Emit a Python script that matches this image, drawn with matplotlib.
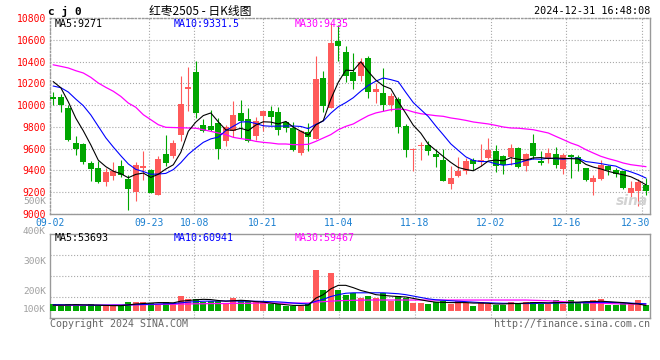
import matplotlib
matplotlib.use('Agg')
import matplotlib.pyplot as plt
import matplotlib.transforms as mtransforms
import numpy as np

W, H = 660, 360

# x axis labels (trading day index -> label)
tick_idx = [0, 13, 19, 28, 38, 48, 58, 68, 78]
tick_labels = ['09-02', '09-23', '10-08', '10-21', '11-04', '11-18', '12-02', '12-16', '12-30']

# daily K, 2024-09-02 .. 2024-12-31 (80 trading days)
opens = [10075, 10075, 9973, 9650, 9643, 9468, 9423, 9294, 9352, 9438,
         9324, 9202, 9425, 9401, 9177, 9551, 9530, 9722, 10151, 10304,
         9814, 9811, 9835, 9667, 9759, 9928, 9872, 9713, 9897, 9943,
         9934, 9842, 9790, 9560, 9753, 9692, 10249, 9973, 10586, 10488,
         10304, 10264, 10433, 10120, 10111, 9998, 10056, 9811, 9590, 9620,
         9637, 9551, 9493, 9279, 9352, 9392, 9499, 9478, 9514, 9576,
         9536, 9523, 9606, 9438, 9652, 9490, 9514, 9551, 9416, 9545,
         9520, 9423, 9294, 9321, 9444, 9401, 9392, 9193, 9214, 9263]
highs = [10120, 10102, 10004, 9713, 9650, 9484, 9484, 9423, 9474, 9499,
         9361, 9478, 9576, 9410, 9530, 9722, 9683, 10264, 10347, 10408,
         9870, 9955, 9882, 9820, 10041, 10050, 9973, 9888, 9949, 9989,
         9980, 9851, 9845, 9770, 9835, 10454, 10310, 10754, 10739, 10540,
         10479, 10433, 10448, 10200, 10341, 10111, 10070, 9826, 9606, 9661,
         9673, 9600, 9597, 9438, 9520, 9514, 9514, 9643, 9698, 9631,
         9545, 9643, 9615, 9560, 9735, 9582, 9606, 9612, 9560, 9551,
         9539, 9425, 9361, 9499, 9450, 9423, 9395, 9300, 9325, 9330]
lows = [10000, 9937, 9673, 9545, 9455, 9306, 9282, 9260, 9312, 9343,
        9040, 9122, 9315, 9190, 9177, 9438, 9514, 9673, 9949, 9882,
        9755, 9759, 9508, 9627, 9707, 9702, 9661, 9683, 9759, 9814,
        9722, 9753, 9582, 9539, 9582, 9692, 9937, 9973, 10408, 10212,
        10151, 10218, 10065, 10020, 9943, 9949, 9744, 9523, 9392, 9499,
        9539, 9435, 9306, 9233, 9337, 9367, 9407, 9444, 9508, 9386,
        9370, 9447, 9425, 9398, 9505, 9453, 9468, 9423, 9367, 9330,
        9398, 9300, 9178, 9309, 9361, 9337, 9233, 9147, 9077, 9177]
closes = [10060, 10000, 9683, 9600, 9478, 9416, 9294, 9386, 9392, 9361,
          9230, 9453, 9444, 9193, 9505, 9468, 9652, 10010, 10163, 9928,
          9765, 9774, 9600, 9796, 9906, 9857, 9673, 9851, 9949, 9888,
          9774, 9790, 9591, 9759, 9710, 10240, 9989, 10570, 10540, 10264,
          10224, 10393, 10120, 10151, 9998, 10087, 9799, 9591, 9600, 9631,
          9582, 9520, 9306, 9330, 9398, 9490, 9462, 9499, 9588, 9438,
          9453, 9606, 9429, 9551, 9536, 9468, 9560, 9453, 9539, 9520,
          9459, 9309, 9330, 9453, 9407, 9370, 9239, 9239, 9291, 9208]

ma5 = [10215, 10160, 10030, 9880, 9764, 9635, 9494, 9435, 9393, 9370,
       9333, 9364, 9376, 9336, 9365, 9413, 9452, 9566, 9760, 9844,
       9904, 9928, 9846, 9773, 9768, 9787, 9766, 9817, 9847, 9844,
       9827, 9850, 9798, 9760, 9725, 9818, 9858, 10054, 10210, 10321,
       10317, 10398, 10308, 10230, 10177, 10150, 10031, 9925, 9815, 9742,
       9641, 9585, 9528, 9474, 9427, 9409, 9397, 9436, 9487, 9495,
       9488, 9517, 9503, 9495, 9515, 9518, 9509, 9514, 9511, 9508,
       9506, 9456, 9431, 9414, 9392, 9374, 9360, 9342, 9309, 9269]
ma10 = [10175, 10160, 10120, 10055, 9995, 9910, 9805, 9700, 9615, 9535,
        9460, 9410, 9390, 9365, 9367, 9373, 9408, 9471, 9548, 9605,
        9658, 9690, 9706, 9766, 9806, 9845, 9847, 9831, 9810, 9806,
        9807, 9808, 9808, 9804, 9784, 9823, 9854, 9926, 9985, 10023,
        10068, 10128, 10181, 10220, 10249, 10234, 10215, 10117, 10023, 9959,
        9895, 9808, 9727, 9644, 9584, 9525, 9491, 9482, 9481, 9461,
        9448, 9457, 9469, 9491, 9505, 9503, 9513, 9508, 9503, 9512,
        9512, 9482, 9473, 9463, 9450, 9440, 9408, 9387, 9362, 9331]
ma30 = [10370, 10356, 10341, 10316, 10295, 10255, 10203, 10163, 10127, 10080,
        10019, 9980, 9912, 9866, 9820, 9796, 9794, 9792, 9790, 9788,
        9774, 9759, 9744, 9729, 9704, 9692, 9683, 9667, 9658, 9652,
        9643, 9643, 9637, 9637, 9640, 9667, 9698, 9729, 9774, 9805,
        9827, 9866, 9903, 9928, 9943, 9958, 9964, 9958, 9937, 9921,
        9912, 9903, 9897, 9882, 9872, 9860, 9845, 9836, 9827, 9814,
        9799, 9790, 9788, 9781, 9774, 9759, 9744, 9713, 9683, 9652,
        9628, 9591, 9560, 9530, 9508, 9490, 9468, 9453, 9444, 9435]

# volume, thousands of lots
volumes = [60, 51, 60, 60, 51, 60, 51, 51, 51, 51,
           69, 69, 69, 63, 60, 69, 63, 94, 81, 81,
           69, 72, 73, 63, 86, 77, 72, 69, 69, 60,
           60, 51, 51, 51, 60, 206, 120, 194, 120, 99,
           108, 87, 94, 87, 108, 74, 94, 87, 66, 66,
           60, 70, 74, 60, 74, 66, 51, 70, 60, 56,
           56, 70, 66, 70, 70, 60, 60, 77, 60, 77,
           66, 70, 77, 81, 56, 56, 63, 60, 77, 56]
vol_ma5 = [55, 55, 56, 57, 56, 56, 55, 54, 53, 53,
           56, 60, 62, 64, 66, 66, 65, 72, 75, 78,
           80, 79, 75, 72, 74, 76, 74, 70, 68, 64,
           60, 57, 54, 54, 55, 85, 100, 125, 140, 140,
           130, 118, 110, 100, 97, 94, 92, 90, 84, 78,
           72, 68, 67, 66, 66, 66, 64, 64, 63, 60,
           60, 62, 62, 64, 66, 66, 65, 66, 66, 67,
           68, 70, 70, 72, 70, 68, 66, 62, 60, 54]
vol_ma10 = [57, 57, 56, 56, 56, 55, 55, 55, 55, 55,
            56, 57, 58, 59, 60, 61, 62, 65, 68, 70,
            72, 72, 73, 73, 73, 72, 72, 72, 71, 70,
            69, 67, 64, 62, 60, 72, 80, 92, 100, 106,
            108, 108, 108, 108, 108, 106, 104, 100, 94, 88,
            82, 78, 76, 74, 72, 70, 68, 66, 65, 64,
            63, 63, 62, 62, 62, 63, 63, 64, 65, 65,
            66, 66, 67, 67, 67, 66, 65, 64, 62, 61]
vol_ma30 = [54, 54, 54, 55, 55, 55, 55, 55, 56, 56,
            56, 57, 57, 58, 58, 59, 59, 60, 60, 61,
            61, 62, 62, 62, 63, 63, 63, 64, 64, 64,
            64, 64, 64, 64, 64, 68, 70, 72, 74, 75,
            76, 76, 77, 77, 77, 77, 77, 77, 77, 77,
            77, 77, 77, 77, 77, 77, 77, 77, 77, 77,
            77, 77, 77, 77, 76, 75, 74, 72, 70, 68,
            66, 65, 64, 63, 62, 61, 60, 60, 60, 59]

RED = '#ff5a5a'
GREEN = '#00a600'
GRID = '#a8a8a8'
MONO = 'DejaVu Sans Mono'


def fx(px):
    return px / W


def fy(py):
    return 1 - py / H


fig = plt.figure(figsize=(6.6, 3.6), dpi=100)
ax = fig.add_axes([fx(50), fy(214), 600 / W, 196 / H])
axv = fig.add_axes([fx(50), fy(318), 600 / W, 84 / H])

n = len(closes)
x = np.arange(n)
o = np.array(opens)
c = np.array(closes)
colors = np.where(c >= o, RED, GREEN)
xlim = (-0.44, n - 0.44)
grid_x = xlim[0] + np.array(tick_idx) * (xlim[1] - xlim[0]) / (n - 1)

# ---- price panel
ax.vlines(x, lows, highs, colors=colors, lw=0.8, zorder=3)
body = np.maximum(np.abs(c - o), 10)
ax.bar(x, body, bottom=np.minimum(o, c), width=0.78, color=colors, lw=0, zorder=3)
ax.plot(x, ma30, color='#ff00ff', lw=0.9, zorder=4)
ax.plot(x, ma10, color='#0000ff', lw=0.8, zorder=4)
ax.plot(x, ma5, color='black', lw=0.8, zorder=4)

ax.set_xlim(*xlim)
ax.set_ylim(9000, 10800)
ax.set_yticks(np.arange(9000, 10801, 200))
ax.set_yticklabels([str(v) for v in range(9000, 10801, 200)], color='#ff0000',
                   fontsize=7, family=MONO)
ax.set_xticks(grid_x)
ax.set_xticklabels(tick_labels, color='#1a7fd0', fontsize=7, family=MONO)
ax.tick_params(length=0, pad=3)
ax.grid(True, ls=':', color=GRID, lw=0.8)
for s in ['left', 'top']:
    ax.spines[s].set_linestyle(':')
for s in ax.spines.values():
    s.set_color('#999999')
    s.set_linewidth(1)
last = ax.get_xticklabels()[-1]
last.set_transform(last.get_transform() + mtransforms.ScaledTranslation(-7 / 100, 0, fig.dpi_scale_trans))

# ---- volume panel
vol = np.array(volumes) * 1000
axv.bar(x, vol - 30000, bottom=30000, width=0.78, color=colors, lw=0, zorder=3)
axv.plot(x, np.array(vol_ma30) * 1000, color='#ff00ff', lw=0.9, zorder=4)
axv.plot(x, np.array(vol_ma10) * 1000, color='#0000ff', lw=0.8, zorder=4)
axv.plot(x, np.array(vol_ma5) * 1000, color='black', lw=0.8, zorder=4)
axv.set_xlim(*xlim)
axv.set_ylim(0, 360000)
axv.set_yticks([90000, 180000, 270000])
axv.set_xticks(grid_x[1:-1])
axv.tick_params(length=0, labelleft=False, labelbottom=False)
axv.grid(True, ls=':', color=GRID, lw=0.8)
for s in axv.spines.values():
    s.set_color('#999999')
    s.set_linewidth(1)

# ---- texts
fig.text(fx(48), fy(11), 'c j 0', fontsize=8, fontweight='bold', family=MONO, va='center')
fig.text(fx(200), fy(11), '红枣2505 - 日K线图', fontsize=8.5, va='center', ha='center',
         family=['Noto Sans CJK SC', 'DejaVu Sans'])
fig.text(fx(650), fy(11), '2024-12-31 16:48:08', fontsize=7.3, family=MONO, va='center', ha='right')

fig.text(fx(55), fy(24), 'MA5:9271', fontsize=7.2, family=MONO, va='center')
fig.text(fx(174), fy(24), 'MA10:9331.5', fontsize=7.2, family=MONO, va='center', color='#0000ff')
fig.text(fx(295), fy(24), 'MA30:9435', fontsize=7.2, family=MONO, va='center', color='#ff00ff')

fig.text(fx(55), fy(238), 'MA5:53693', fontsize=7.2, family=MONO, va='center')
fig.text(fx(174), fy(238), 'MA10:60941', fontsize=7.2, family=MONO, va='center', color='#0000ff')
fig.text(fx(295), fy(238), 'MA30:59467', fontsize=7.2, family=MONO, va='center', color='#ff00ff')

for lab, yy in [('500K', 202), ('400K', 231), ('300K', 262), ('200K', 291), ('100K', 310)]:
    fig.text(fx(46), fy(yy), lab, fontsize=6.8, family=MONO, va='center', ha='right', color='#a0a0a0')

fig.text(fx(50), fy(324), 'Copyright 2024 SINA.COM', fontsize=7.2, family=MONO, va='center', color='#666666')
fig.text(fx(650), fy(324), 'http://finance.sina.com.cn', fontsize=7.2, family=MONO, va='center',
         ha='right', color='#666666')
fig.text(fx(648), fy(201), 'sina', fontsize=10, fontweight='bold', style='italic', va='center',
         ha='right', color='#d2d2d2', zorder=1)

fig.savefig('out.png', dpi=100)
